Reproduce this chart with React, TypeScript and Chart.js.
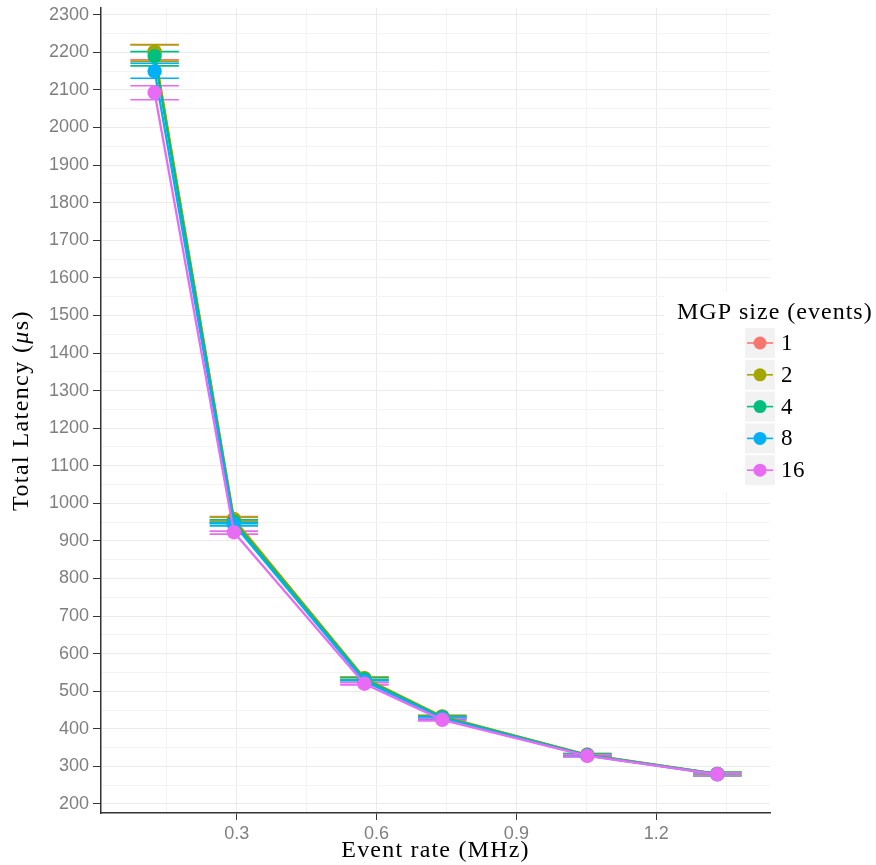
import React, { useEffect, useRef } from "react";
import { Chart, registerables } from "chart.js";

Chart.register(...registerables);

const seriesNames = ["1", "2", "4", "8", "16"];
const seriesColors = ["#F8766D", "#A3A500", "#00BF7D", "#00B0F6", "#E76BF3"];
const rates = [0.124, 0.294, 0.574, 0.741, 1.052, 1.331];

const s1 = [2200, 958, 534, 432, 331, 280];
const s2 = [2202, 958, 535, 433, 331, 280];
const s3 = [2190, 951, 532, 431, 330, 280];
const s4 = [2150, 944, 527, 428, 329, 279];
const s5 = [2093, 923, 520, 424, 328, 279];

const lo1 = [2180, 952, 530, 429, 328, 276];
const hi1 = [2220, 965, 538, 435, 334, 284];
const lo2 = [2176, 950, 531, 430, 328, 276];
const hi2 = [2221, 963, 538, 436, 334, 284];
const lo3 = [2164, 946, 529, 428, 327, 276];
const hi3 = [2202, 956, 536, 434, 333, 284];
const lo4 = [2131, 940, 524, 425, 326, 275];
const hi4 = [2171, 948, 530, 431, 332, 283];
const lo5 = [2074, 918, 517, 421, 325, 275];
const hi5 = [2111, 926, 523, 427, 331, 283];

const xTicks = [0.15, 0.3, 0.45, 0.6, 0.75, 0.9, 1.05, 1.2, 1.35];
const yTicks: number[] = [];
for (let v = 200; v <= 2300; v += 50) yTicks.push(v);

const allValues = [s1, s2, s3, s4, s5];
const allLo = [lo1, lo2, lo3, lo4, lo5];
const allHi = [hi1, hi2, hi3, hi4, hi5];

const legendTitle = "MGP size (events)";
const xTitle = "Event rate (MHz)";
const yTitleParts: [string, boolean][] = [
  ["Total Latency (", false],
  ["μ", true],
  ["s)", false],
];
const serifFamily = "'Liberation Serif', 'DejaVu Serif', serif";
const sans = "'Liberation Sans', Arial, sans-serif";

function drawParts(ctx: any, parts: [string, boolean][], cx: number, cy: number, size: number, spacing: string) {
  ctx.letterSpacing = spacing;
  const fonts = parts.map(([, it]) => `${it ? "italic " : ""}${size}px ${serifFamily}`);
  let total = 0;
  const widths = parts.map(([t], i) => {
    ctx.font = fonts[i];
    const w = ctx.measureText(t).width;
    total += w;
    return w;
  });
  let x = cx - total / 2;
  ctx.textAlign = "left";
  ctx.textBaseline = "middle";
  parts.forEach(([t], i) => {
    ctx.font = fonts[i];
    ctx.fillText(t, x, cy);
    x += widths[i];
  });
}

export default function App() {
  const ref = useRef<HTMLCanvasElement | null>(null);
  useEffect(() => {
    if (!ref.current) return;
    const errorBars = {
      id: "errorBars",
      beforeDatasetsDraw(chart: any) {
        const ctx = chart.ctx;
        const xs = chart.scales.x;
        const ys = chart.scales.y;
        ctx.save();
        ctx.lineWidth = 1.6;
        allValues.forEach((_, i) => {
          ctx.strokeStyle = seriesColors[i];
          rates.forEach((r, j) => {
            const x = xs.getPixelForValue(r);
            const half = xs.getPixelForValue(r + 0.052) - x;
            const yl = ys.getPixelForValue(allLo[i][j]);
            const yh = ys.getPixelForValue(allHi[i][j]);
            ctx.beginPath();
            ctx.moveTo(x, yl);
            ctx.lineTo(x, yh);
            ctx.moveTo(x - half, yl);
            ctx.lineTo(x + half, yl);
            ctx.moveTo(x - half, yh);
            ctx.lineTo(x + half, yh);
            ctx.stroke();
          });
        });
        ctx.restore();
      },
    };
    const overlay = {
      id: "overlay",
      afterDraw(chart: any) {
        const ctx = chart.ctx;
        const area = chart.chartArea;
        ctx.save();
        ctx.fillStyle = "#000000";
        // axis titles
        drawParts(ctx, [[xTitle, false]], (area.left + area.right) / 2, 851, 24, "1.2px");
        ctx.save();
        ctx.translate(22, (area.top + area.bottom) / 2);
        ctx.rotate(-Math.PI / 2);
        drawParts(ctx, yTitleParts, 0, 0, 24, "1.4px");
        ctx.restore();
        // legend
        ctx.fillStyle = "#ffffff";
        ctx.fillRect(664, 292, 212, 200);
        ctx.fillStyle = "#000000";
        ctx.letterSpacing = "1px";
        ctx.font = `24px ${serifFamily}`;
        ctx.textBaseline = "middle";
        ctx.textAlign = "left";
        ctx.fillText(legendTitle, 677, 313);
        ctx.letterSpacing = "0.5px";
        seriesNames.forEach((name, i) => {
          const top = 328 + i * 31.8;
          const cy = top + 15;
          ctx.fillStyle = "#f2f2f2";
          ctx.fillRect(745, top, 30, 30);
          ctx.strokeStyle = seriesColors[i];
          ctx.lineWidth = 1.6;
          ctx.beginPath();
          ctx.moveTo(747, cy);
          ctx.lineTo(773, cy);
          ctx.stroke();
          ctx.fillStyle = seriesColors[i];
          ctx.beginPath();
          ctx.arc(760, cy, 6.5, 0, Math.PI * 2);
          ctx.fill();
          ctx.fillStyle = "#000000";
          ctx.font = `23px ${serifFamily}`;
          ctx.fillText(name, 781, cy + 1);
        });
        ctx.restore();
      },
    };
    const chart = new Chart(ref.current, {
      type: "line",
      data: {
        datasets: allValues.map((vals, i) => ({
          label: seriesNames[i],
          data: vals.map((v, j) => ({ x: rates[j], y: v })),
          borderColor: seriesColors[i],
          backgroundColor: seriesColors[i],
          borderWidth: 2.3,
          pointRadius: 7.2,
          pointBorderWidth: 0,
          pointBackgroundColor: seriesColors[i],
          order: 4 - i,
          tension: 0,
        })),
      },
      options: {
        animation: false,
        responsive: false,
        layout: { padding: { left: 0, top: 8, right: 106, bottom: 0 } },
        plugins: { legend: { display: false }, tooltip: { enabled: false } },
        scales: {
          x: {
            type: "linear",
            min: 0.009,
            max: 1.444,
            afterBuildTicks: (s: any) => {
              s.ticks = xTicks.map((v) => ({ value: v }));
            },
            afterFit: (s: any) => {
              s.height = 52;
              s.paddingLeft = 0;
              s.paddingRight = 0;
            },
            ticks: {
              autoSkip: false,
              maxRotation: 0,
              padding: 3,
              color: "#7f7f7f",
              font: { family: sans, size: 18 },
              callback: (v: any) => (Math.round(Number(v) * 100) % 30 === 0 ? Number(v).toFixed(1) : ""),
            },
            grid: {
              color: (c: any) => (c.tick && Math.round(c.tick.value * 100) % 30 === 0 ? "#ebebeb" : "#f3f3f3"),
              tickColor: (c: any) => (c.tick && Math.round(c.tick.value * 100) % 30 === 0 ? "#333333" : "rgba(0,0,0,0)"),
              tickLength: 7,
              lineWidth: 1,
            },
            border: { display: true, color: "#333333", width: 1.5 },
            title: { display: false },
          },
          y: {
            type: "linear",
            min: 176,
            max: 2318,
            afterBuildTicks: (s: any) => {
              s.ticks = yTicks.map((v) => ({ value: v }));
            },
            afterFit: (s: any) => {
              s.width = 101;
              s.paddingTop = 0;
              s.paddingBottom = 0;
            },
            ticks: {
              autoSkip: false,
              padding: 4,
              color: "#7f7f7f",
              font: { family: sans, size: 18 },
              callback: (v: any) => (Number(v) % 100 === 0 ? String(v) : ""),
            },
            grid: {
              color: (c: any) => (c.tick && c.tick.value % 100 === 0 ? "#ebebeb" : "#f3f3f3"),
              tickColor: (c: any) => (c.tick && c.tick.value % 100 === 0 ? "#333333" : "rgba(0,0,0,0)"),
              tickLength: 8,
              lineWidth: 1,
            },
            border: { display: true, color: "#333333", width: 1.5 },
            title: { display: false },
          },
        },
      },
      plugins: [errorBars, overlay],
    } as any);
    return () => chart.destroy();
  }, []);
  return (
    <div style={{ position: "absolute", left: 0, top: 0, width: 876, height: 865, background: "#fff" }}>
      <canvas ref={ref} width={876} height={865} style={{ width: 876, height: 865, display: "block" }} />
    </div>
  );
}
